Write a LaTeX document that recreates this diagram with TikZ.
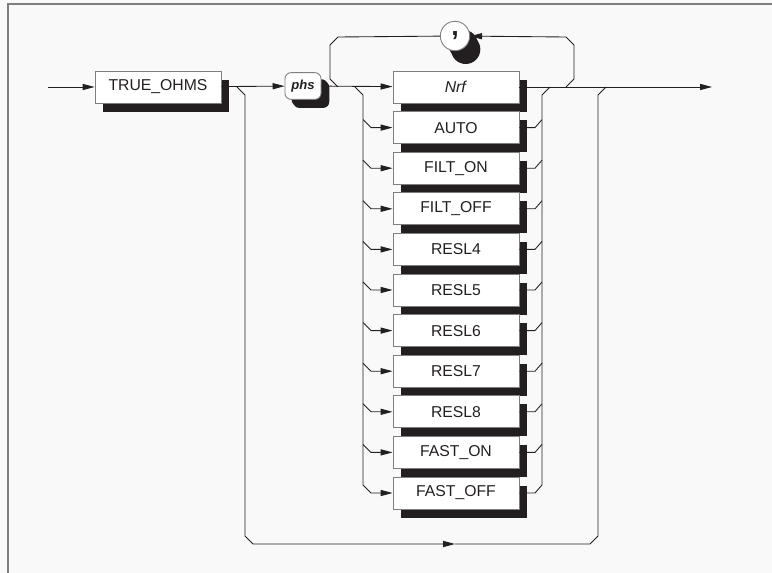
\documentclass[tikz,border=0pt]{standalone}
\usepackage{fontspec}
\setmainfont{Liberation Sans}
\usetikzlibrary{arrows.meta,shadows}
\definecolor{paper}{HTML}{F9F9F9}
\definecolor{ink}{HTML}{231F20}
\definecolor{rim}{HTML}{7F7F7F}

\begin{document}
\begin{tikzpicture}[x=0.75pt, y=-0.75pt, line width=0.65pt, ink,
  >={Triangle[length=9pt, width=4.6pt]},
  kw/.style={draw=rim, fill=white, text=ink, inner sep=0pt,
    minimum width=94.5pt, minimum height=24pt,
    font=\fontsize{11.8}{14}\selectfont,
    general shadow={fill=ink, shadow xshift=6.2pt, shadow yshift=-6.4pt}},
  var/.style={kw, rounded corners=4.5pt, minimum width=27pt, minimum height=20pt,
    font=\bfseries\itshape\fontsize{9.8}{11}\selectfont,
    general shadow={fill=ink, shadow xshift=5pt, shadow yshift=-5pt}},
  sep/.style={kw, circle, minimum width=22pt, minimum height=22pt,
    font=\bfseries\fontsize{20}{20}\selectfont,
    general shadow={fill=ink, shadow xshift=8pt, shadow yshift=-10pt}}]
  \useasboundingbox (0,0) rectangle (772,573);
  % Frame.
  \fill[paper] (0,0) rectangle (772,573);
  \draw[rim, line width=1.6pt] (8,573) -- (8,4) -- (772,4);
  % Keyword, parameter and separator.
  \node[kw] (ohms) at (158,87) {TRUE\_OHMS};
  \node[var] (phs) at (303,86) {phs};
  \node[sep] (comma) at (455,36) {\raisebox{0.18em}{,}};
  % Options, one under the other.
  \foreach \lab [count=\i from 0] in {\textit{Nrf},AUTO,FILT\_ON,FILT\_OFF,RESL4,RESL5,RESL6,RESL7,RESL8,FAST\_ON,FAST\_OFF}
    \node[kw] (opt\i) at (456,87+40.6*\i) {\lab};
  % Main line.
  \coordinate (entry) at (48,87);
  \coordinate (exit) at (712,87);
  \draw[->] (entry) -- (ohms);
  \draw[->] (ohms) -- (phs);
  \draw[->] (phs) -- (opt0);
  \draw[->] (opt0) -- (exit);
  % Branches into and out of the options.
  \draw (355,87) -- (363,95) -- (363,485);
  \draw (550,87) -- (542,95) -- (542,485);
  \foreach \i [evaluate=\i as \y using 87+40.6*\i] in {1,...,10} {
    \draw[->] (363,\y-8) -- (371,\y) -- (opt\i);
    \draw (opt\i) -- (535,\y) -- (542,\y-8);
  }
  % Repeat loop through the comma.
  \draw[->] (566,87) -- (574,79) -- (574,45) -- (566,37) -- (comma);
  \draw (comma) -- (338,37) -- (330,45) -- (330,79) -- (338,87);
  % Bypass under everything.
  \draw[->] (237,87) -- (245,95) -- (245,536) -- (253,544) -- (455,544);
  \draw (455,544) -- (590,544) -- (598,536) -- (598,95) -- (606,87);
\end{tikzpicture}
\end{document}
